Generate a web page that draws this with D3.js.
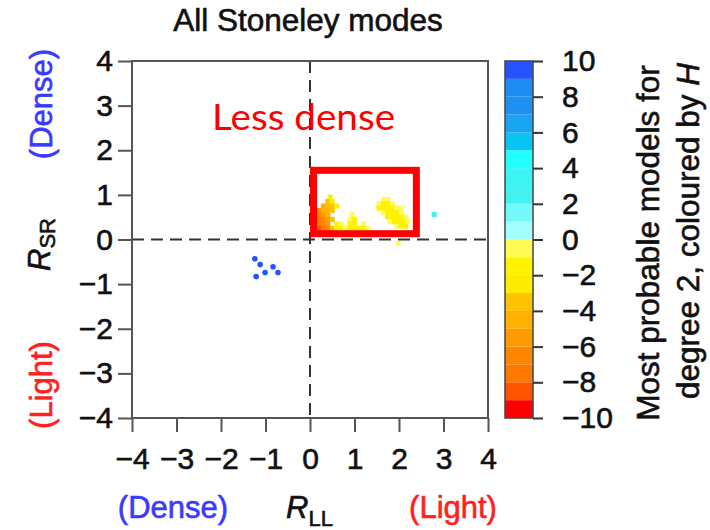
<!DOCTYPE html>
<html>
<head>
<meta charset="utf-8">
<script src="https://cdn.jsdelivr.net/npm/d3@7"></script>
<style>
  body { margin: 0; background: #fff; }
  svg { display: block; }
</style>
</head>
<body>
<div id="chart"></div>
<script>
// ---------------------------------------------------------------------------
// All Stoneley modes — R_LL vs R_SR, cells coloured by H
// ---------------------------------------------------------------------------

const axisTicks = [-4, -3, -2, -1, 0, 1, 2, 3, 4];
const hTicks = [-10, -8, -6, -4, -2, 0, 2, 4, 6, 8, 10];
// colourbar bands, one per unit of H, from -10 (bottom) to 10 (top)
const hColors = [
  '#ff0000', '#ff5400', '#ff7800', '#ff8600', '#ff9a00',
  '#ffb000', '#ffc200', '#ffec00', '#fff200', '#fffa55',
  '#a4ffff', '#74f8f8', '#44f0f0', '#3cf4f4', '#22ffff',
  '#08c4f2', '#18a4f0', '#1e90f0', '#1e8cf0', '#2452ff'
];

// [R_LL, R_SR, H]
const orangeCells = [
  [0.45, 0.95, -2.5],
  [0.40, 0.85, -3.5], [0.50, 0.85, -2.5],
  [0.30, 0.75, -4.5], [0.40, 0.75, -3.5], [0.50, 0.75, -3.5], [0.60, 0.75, -2.5],
  [0.20, 0.65, -5.5], [0.30, 0.65, -4.5], [0.40, 0.65, -4.5], [0.50, 0.65, -3.5],
  [0.20, 0.55, -6.5], [0.30, 0.55, -5.5], [0.40, 0.55, -4.5],
  [0.20, 0.45, -7.5], [0.30, 0.45, -6.5], [0.40, 0.45, -5.5], [0.50, 0.45, -3.5],
  [0.20, 0.35, -7.5], [0.30, 0.35, -6.5], [0.40, 0.35, -5.5],
  [0.20, 0.25, -8.5], [0.30, 0.25, -7.5], [0.40, 0.25, -6.5], [0.50, 0.25, -3.5],
  [0.20, 0.15, -8.5], [0.30, 0.15, -7.5], [0.40, 0.15, -5.5]
];
const yellowCellsNear = [
  [0.95, 0.55, -0.5],
  [0.90, 0.45, -0.5], [1.00, 0.45, -1.5],
  [0.60, 0.35, -1.5], [0.70, 0.35, -0.5], [0.90, 0.35, -1.5], [1.00, 0.35, -1.5], [1.20, 0.35, -0.5],
  [0.60, 0.25, -1.5], [0.70, 0.25, -1.5], [0.80, 0.25, -0.5], [0.90, 0.25, -1.5],
  [1.00, 0.25, -1.5], [1.10, 0.25, -1.5], [1.20, 0.25, -1.5], [1.30, 0.25, -0.5],
  [0.60, 0.15, -1.5], [0.70, 0.15, -1.5], [0.80, 0.15, -1.5], [0.90, 0.15, -0.5],
  [1.00, 0.15, -1.5], [1.10, 0.15, -1.5], [1.20, 0.15, -1.5], [1.30, 0.15, -1.5]
];
const yellowCellsFar = [
  [1.65, 0.90, -0.5], [1.75, 0.90, -0.5],
  [1.55, 0.80, -0.5], [1.65, 0.80, -1.5], [1.75, 0.80, -1.5], [1.85, 0.80, -0.5],
  [1.55, 0.70, -1.5], [1.65, 0.70, -1.5], [1.75, 0.70, -1.5], [1.85, 0.70, -1.5], [1.95, 0.70, -0.5], [2.05, 0.70, -0.5],
  [1.65, 0.60, -0.5], [1.75, 0.60, -1.5], [1.85, 0.60, -1.5], [1.95, 0.60, -1.5], [2.05, 0.60, -0.5],
  [1.75, 0.50, -1.5], [1.85, 0.50, -1.5], [1.95, 0.50, -1.5], [2.05, 0.50, -1.5], [2.15, 0.50, -0.5],
  [1.80, 0.40, -0.5], [1.90, 0.40, -1.5], [2.00, 0.40, -1.5], [2.10, 0.40, -1.5], [2.20, 0.40, -0.5],
  [1.95, 0.30, -0.5], [2.05, 0.30, -1.5], [2.15, 0.30, -1.5],
  [1.98, -0.09, -0.5]
];
const cyanCells = [[2.79, 0.56, 2.5]];
const bluePoints = [
  [-1.24, -0.43, 9.5], [-1.12, -0.56, 9.5], [-0.83, -0.61, 9.5],
  [-0.72, -0.74, 9.5], [-1.01, -0.74, 9.5], [-1.21, -0.83, 9.5]
];
// annotation box around the "less dense" models, in data units
const highlightX = [0.08, 2.39];
const highlightY = [0.13, 1.55];
const highlightLabelAt = [-2.2, 2.45];

const width = 710;
const height = 530;
const plot = { left: 132, right: 488, top: 61, bottom: 418 };
const bar = { left: 505, right: 533 };
const font = '"Liberation Sans", Arial, Helvetica, sans-serif';

const x = d3.scaleLinear().domain([-4, 4]).range([plot.left, plot.right]);
const y = d3.scaleLinear().domain([-4, 4]).range([plot.bottom, plot.top]);
const h = d3.scaleLinear().domain([-10, 10]).range([plot.bottom, plot.top]);
const colour = d3.scaleQuantize().domain([-10, 10]).range(hColors);

const svg = d3.select('#chart').append('svg')
  .attr('width', width).attr('height', height)
  .style('font-family', font);

// heavier strokes on text, as in the source figure
const ink = (sel, c) => sel.attr('fill', c).attr('stroke', c).attr('stroke-width', 0.6);

ink(svg.append('text').attr('x', 308).attr('y', 31).attr('text-anchor', 'middle')
  .style('font-size', '31.5px'), '#111').text('All Stoneley modes');

// zero lines
const g = svg.append('g');
g.append('line')
  .attr('x1', x(0)).attr('x2', x(0)).attr('y1', y(4)).attr('y2', y(-4))
  .attr('stroke', '#333').attr('stroke-width', 2).attr('stroke-dasharray', '12,7');
g.append('line')
  .attr('x1', x(-4)).attr('x2', x(4)).attr('y1', y(0)).attr('y2', y(0))
  .attr('stroke', '#333').attr('stroke-width', 2).attr('stroke-dasharray', '12,7');

// cells
const cell = x(0.1) - x(0) + 0.6;
const cells = [...orangeCells, ...yellowCellsNear, ...yellowCellsFar, ...cyanCells];
g.selectAll('rect.cell')
  .data(cells)
  .join('rect')
  .attr('class', 'cell')
  .attr('x', (d) => x(d[0]) - cell / 2)
  .attr('y', (d) => y(d[1]) - cell / 2)
  .attr('width', cell).attr('height', cell)
  .attr('fill', (d) => colour(d[2]));

g.selectAll('circle')
  .data(bluePoints)
  .join('circle')
  .attr('cx', (d) => x(d[0]))
  .attr('cy', (d) => y(d[1]))
  .attr('r', 2.8)
  .attr('fill', (d) => colour(d[2]));

// axes
const left = svg.append('g').attr('transform', `translate(${plot.left},0)`)
  .call(d3.axisLeft(y).tickValues(axisTicks).tickSize(14).tickPadding(5));
const bottom = svg.append('g').attr('transform', `translate(0,${plot.bottom})`)
  .call(d3.axisBottom(x).tickValues(axisTicks).tickSize(14).tickPadding(16));
[left, bottom].forEach((a) => {
  a.select('.domain').remove();
  a.selectAll('line').attr('stroke', '#555').attr('stroke-width', 2);
  ink(a.selectAll('text').style('font-size', '30px').style('font-family', font), '#111');
});

svg.append('rect')
  .attr('x', plot.left).attr('y', plot.top)
  .attr('width', plot.right - plot.left).attr('height', plot.bottom - plot.top)
  .attr('fill', 'none').attr('stroke', '#555').attr('stroke-width', 2);

// axis titles
const bottomTitles = svg.append('g').style('font-size', '31px');
ink(bottomTitles.append('text').attr('x', 173).attr('y', 518).attr('text-anchor', 'middle'), '#3a3aff')
  .text('(Dense)');
ink(bottomTitles.append('text').attr('x', 453).attr('y', 518).attr('text-anchor', 'middle'), '#ff2020')
  .text('(Light)');
const rll = ink(bottomTitles.append('text').attr('x', 286).attr('y', 518), '#111');
rll.append('tspan').style('font-style', 'italic').text('R');
rll.append('tspan').attr('dy', 8).style('font-size', '22px').text('LL');

const leftTitles = svg.append('g').style('font-size', '31px');
ink(leftTitles.append('text').attr('transform', 'translate(52,104) rotate(-90)')
  .attr('text-anchor', 'middle'), '#3a3aff').text('(Dense)');
ink(leftTitles.append('text').attr('transform', 'translate(52,385) rotate(-90)')
  .attr('text-anchor', 'middle'), '#ff2020').text('(Light)');
const rsr = ink(leftTitles.append('text').attr('transform', 'translate(50,271) rotate(-90)'), '#111');
rsr.append('tspan').style('font-style', 'italic').text('R');
rsr.append('tspan').attr('dy', 5).style('font-size', '22px').text('SR');

// colour bar
const cb = svg.append('g');
cb.selectAll('rect')
  .data(hColors)
  .join('rect')
  .attr('x', bar.left)
  .attr('y', (d, i) => h(-10 + i + 1))
  .attr('width', bar.right - bar.left)
  .attr('height', (d, i) => h(-10 + i) - h(-10 + i + 1))
  .attr('fill', (d) => d);
cb.append('rect')
  .attr('x', bar.left).attr('y', h(10))
  .attr('width', bar.right - bar.left).attr('height', h(-10) - h(10))
  .attr('fill', 'none').attr('stroke', '#444').attr('stroke-width', 1.5);
const cbAxis = cb.append('g').attr('transform', `translate(${bar.right},0)`)
  .call(d3.axisRight(h).tickValues(hTicks).tickSize(10).tickPadding(19));
cbAxis.select('.domain').remove();
cbAxis.selectAll('line').attr('stroke', '#333').attr('stroke-width', 2);
ink(cbAxis.selectAll('text').style('font-size', '30px').style('font-family', font), '#111');

const cbTitle = ink(svg.append('g').style('font-size', '31.5px'), '#111');
cbTitle.append('text').attr('transform', 'translate(659,243) rotate(-90)')
  .attr('text-anchor', 'middle').text('Most probable models for');
const line2 = cbTitle.append('text').attr('transform', 'translate(699,231) rotate(-90)')
  .attr('text-anchor', 'middle');
line2.append('tspan').text('degree 2, coloured by ');
line2.append('tspan').style('font-style', 'italic').text('H');

// annotation
svg.append('rect')
  .attr('x', x(highlightX[0])).attr('y', y(highlightY[1]))
  .attr('width', x(highlightX[1]) - x(highlightX[0]))
  .attr('height', y(highlightY[0]) - y(highlightY[1]))
  .attr('fill', 'none').attr('stroke', '#ff0000').attr('stroke-width', 7);
svg.append('text')
  .attr('x', x(highlightLabelAt[0])).attr('y', y(highlightLabelAt[1]))
  .style('font-family', 'Lato, "Open Sans", sans-serif').style('font-size', '37px')
  .attr('textLength', 183).attr('lengthAdjust', 'spacingAndGlyphs')
  .attr('fill', '#ff0000').text('Less dense');
</script>
</body>
</html>
